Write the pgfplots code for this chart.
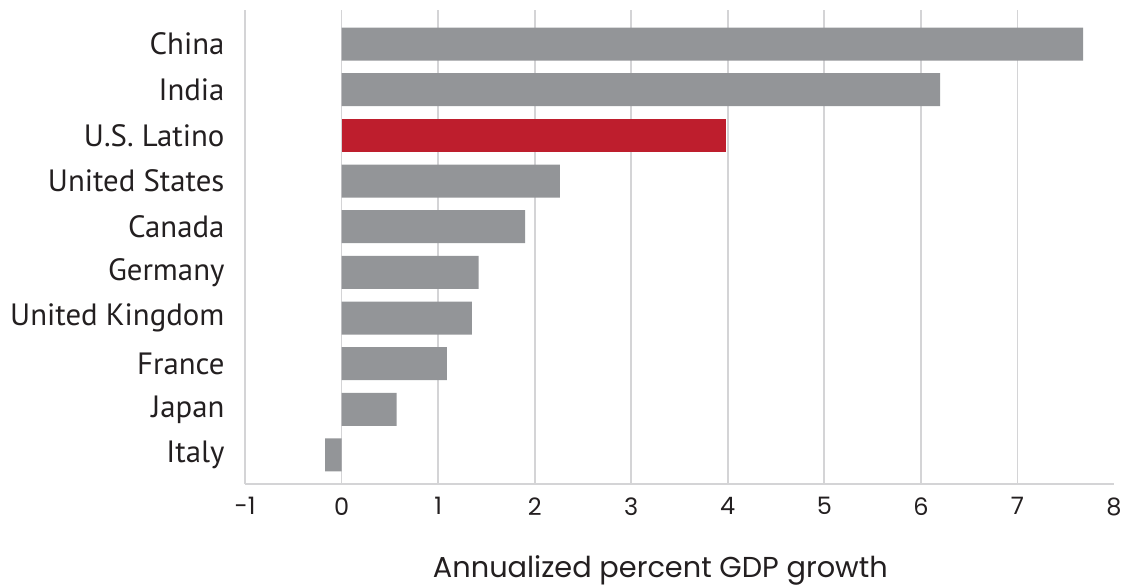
\documentclass[border=0pt]{standalone}
\usepackage{pgfplots}
\pgfplotsset{compat=1.18}
\usepackage{fontspec}
\setmainfont{PT Sans}
\newfontfamily\tickfont{Poppins}
\definecolor{bargray}{HTML}{939598}
\definecolor{barred}{HTML}{BE1E2D}
\definecolor{gridgray}{HTML}{D4D4D6}
\definecolor{txt}{HTML}{231F20}
\begin{document}
\begin{tikzpicture}
\begin{axis}[
  scale only axis, width=869pt, height=474pt,
  xmin=-1, xmax=8, ymin=-0.635, ymax=9.745,
  xbar, bar width=33pt, bar shift=0pt,
  axis lines*=left,
  axis line style={gridgray, line width=1.8pt},
  xtick={-1,0,1,2,3,4,5,6,7},
  xticklabels={-1,0,1,2,3,4,5,6,7},
  extra x ticks={8}, extra x tick labels={8},
  extra x tick style={grid=none},
  major tick length=0pt,
  xmajorgrids, grid style={gridgray, line width=1.8pt},
  ytick={0,1,2,3,4,5,6,7,8,9},
  yticklabels={Italy,Japan,France,United Kingdom,Germany,Canada,United States,U.S. Latino,India,China},
  y tick label style={font=\fontsize{30.8}{30.8}\selectfont, text=txt, xshift=-17pt},
  x tick label style={font=\tickfont\fontsize{24}{24}\selectfont, text=txt, yshift=-10pt},
  xlabel={Annualized percent GDP growth},
  xlabel style={font=\tickfont\fontsize{28.8}{28.8}\selectfont, text=txt, at={(axis description cs:0.478,0)}, anchor=center, yshift=-86pt},
]
\addplot[fill=bargray, draw=none] coordinates {(7.68,9) (6.2,8) (2.26,6) (1.9,5) (1.42,4) (1.35,3) (1.09,2) (0.57,1) (-0.17,0)};
\addplot[fill=barred, draw=none] coordinates {(3.98,7)};
\end{axis}
\pgfresetboundingbox
\path (current axis.south west) ++(-245pt,-101pt) rectangle ++(1125pt,585pt);
\end{tikzpicture}
\end{document}
